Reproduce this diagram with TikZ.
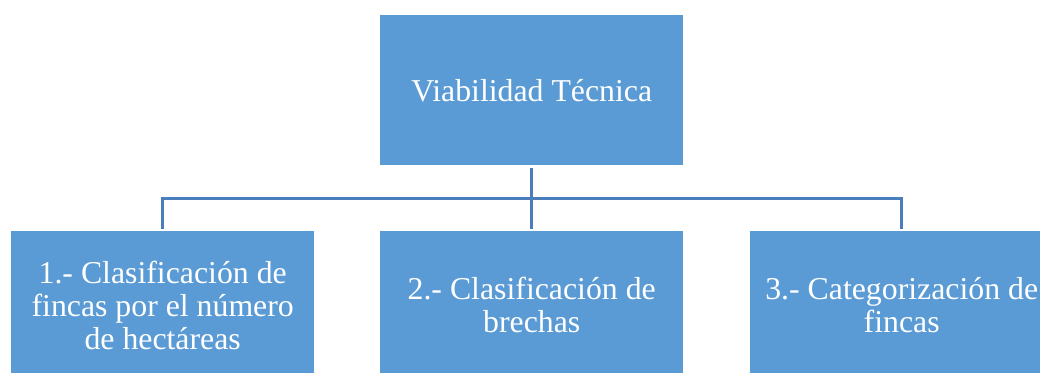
\documentclass[tikz,border=0pt]{standalone}
\usepackage{fontspec}
\setmainfont{Liberation Serif}
\definecolor{boxblue}{HTML}{5B9BD5}
\definecolor{linkblue}{HTML}{4A7EBB}
\newcommand{\lowerline}{\rule{0pt}{28pt}}
\tikzset{
  x=1pt,y=-1pt,
  orgbox/.style={draw=none,fill=boxblue,text=white,inner sep=0pt,align=flush center,
    text width=303pt,font=\fontsize{31.8}{33}\selectfont,anchor=north west},
  link/.style={draw=linkblue,line width=3pt,line cap=butt,line join=miter}
}
\begin{document}
\begin{tikzpicture}
\useasboundingbox (0,0) rectangle (1040,373);
\node[orgbox,minimum width=303pt,minimum height=150pt] (root) at (380,15) {Viabilidad Técnica};
\node[orgbox,minimum width=303pt,minimum height=142pt] (c1) at (11,231) {\lowerline 1.- Clasificación de\\fincas por el número\\de hectáreas};
\node[orgbox,minimum width=303pt,minimum height=142pt] (c2) at (380,231) {\lowerline 2.- Clasificación de\\brechas};
\node[orgbox,minimum width=303pt,minimum height=142pt] (c3) at (750,231) {\lowerline 3.- Categorización de\\fincas};
\coordinate (bus) at (532,198);
\draw[link,shorten >=2.5pt,shorten <=2.5pt] (root.south) -- (c2.north);
\draw[link,shorten >=2.5pt] (bus) -| (c1.north);
\draw[link,shorten >=2.5pt] (bus) -| (c3.north);
\end{tikzpicture}
\end{document}
